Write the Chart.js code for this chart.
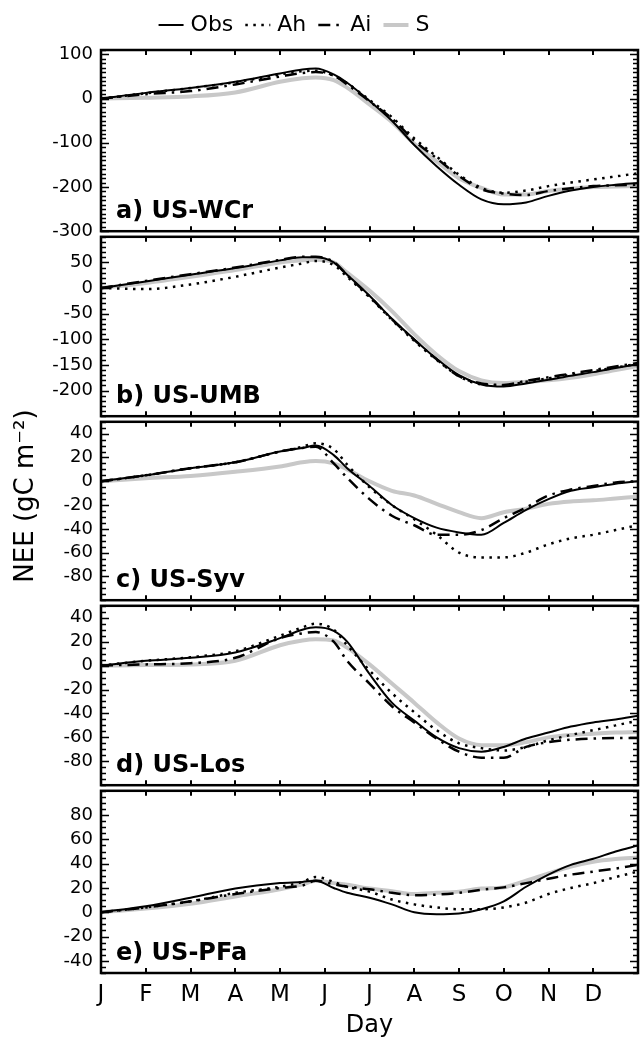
<!DOCTYPE html>
<html>
<head>
<meta charset="utf-8">
<script src="https://cdn.jsdelivr.net/npm/chart.js@4.4.1/dist/chart.umd.min.js"></script>
<style>
  body { margin: 0; background: #fff; }
  #wrap { position: relative; width: 640px; height: 1040px; overflow: hidden; }
  #wrap canvas { position: absolute; left: 0; }
</style>
</head>
<body>
<div id="wrap"></div>
<script>
// ── Data ─────────────────────────────────────────────────────────
// x positions in months since 1 Jan (0 = J, 12 = end of Dec)
const months      = [0, 1, 2, 3, 4, 4.5, 4.8, 5.2, 5.5, 6, 6.5, 7, 7.5, 8, 8.5, 9, 9.5, 10, 10.5, 11, 11.5, 12];
const monthLabels = ['J', 'F', 'M', 'A', 'M', 'J', 'J', 'A', 'S', 'O', 'N', 'D'];
const seriesNames = ['Obs', 'Ah', 'Ai', 'S'];

// a) US-WCr
const wcrObs = [0, 13, 24, 38, 57, 66, 68, 55, 36, -5, -50, -105, -153, -195, -228, -239, -235, -220, -208, -200, -195, -191];
const wcrAh  = [0, 12, 24, 37, 55, 62, 63, 52, 35, -3, -42, -90, -131, -172, -202, -213, -208, -198, -190, -183, -176, -169];
const wcrAi  = [0, 10, 17, 32, 50, 58, 60, 52, 32, -6, -45, -95, -135, -175, -205, -215, -218, -209, -203, -198, -196, -195];
const wcrS   = [0, 2, 5, 14, 38, 46, 48, 42, 25, -13, -53, -102, -142, -180, -202, -217, -217, -209, -204, -200, -199, -198];
const wcrTicks = [100, 0, -100, -200, -300];

// b) US-UMB
const umbObs = [0, 13, 26, 39, 54, 60, 60, 50, 26, -15, -60, -100, -138, -170, -188, -192, -186, -179, -171, -164, -156, -148];
const umbAh  = [0, -2, 7, 22, 40, 48, 53, 45, 22, -18, -62, -103, -140, -172, -188, -190, -183, -176, -169, -162, -155, -148];
const umbAi  = [0, 14, 27, 40, 55, 61, 61, 51, 25, -16, -61, -101, -139, -172, -186, -189, -181, -174, -167, -160, -153, -146];
const umbS   = [0, 10, 22, 35, 50, 54, 55, 50, 30, -5, -45, -90, -130, -162, -180, -185, -183, -180, -175, -168, -160, -152];
const umbTicks = [50, 0, -50, -100, -150, -200];

// c) US-Syv
const syvObs = [0, 5, 11, 16, 25, 28, 30, 22, 11, -4, -20, -31, -39, -43, -45, -35, -24, -15, -8, -5, -2, 0];
const syvAh  = [0, 5, 11, 16, 25, 29, 32, 27, 14, -5, -20, -32, -45, -60, -64, -64, -60, -53, -48, -45, -41, -37];
const syvAi  = [0, 5, 11, 16, 25, 28, 29, 15, 3, -15, -29, -37, -45, -45, -41, -31, -22, -12, -7, -4, -1, 0];
const syvS   = [0, 2.5, 4.5, 8, 12.5, 16, 17, 15, 10, 0, -8, -12, -19, -26, -31, -26, -23, -19, -17, -16, -14.5, -13];
const syvTicks = [40, 20, 0, -20, -40, -60, -80];

// d) US-Los
const losObs = [0, 4, 6.5, 11, 23, 30, 32, 29, 20, -7, -31, -46, -60, -69, -72, -68, -61, -56, -51, -47.5, -45, -42];
const losAh  = [0, 4, 7, 12, 25, 32, 35, 30, 17, -4, -23, -39, -54, -65, -69, -71, -68, -62.5, -58, -54, -50, -46];
const losAi  = [0, 1, 2, 6.5, 23, 27, 28, 20, 4, -15, -34, -47.5, -61, -72, -77, -77, -68, -64, -62, -61, -60.5, -60.5];
const losS   = [0, 0.5, 1, 4, 17, 21, 22, 21, 15, 1, -15, -31, -47.5, -61, -66.5, -66.5, -64, -60, -58, -57, -56, -55.6];
const losTicks = [40, 20, 0, -20, -40, -60, -80];

// e) US-PFa
const pfaObs = [0, 5, 12, 19.5, 24, 25, 26, 20, 16, 12, 6.5, 0, -1.6, -1, 2.5, 9, 21, 31, 39, 44, 50, 55];
const pfaAh  = [0, 4, 9, 16, 21, 25, 29, 25, 21, 17, 10.5, 6.5, 4, 2.5, 2.5, 4, 8, 15, 20, 24, 29, 33.5];
const pfaAi  = [0, 4, 9, 15, 20, 22, 26, 23, 21, 19, 16, 14, 14.5, 16, 18.5, 20.5, 24, 27.6, 31, 33.5, 36, 39];
const pfaS   = [0, 3, 7, 13, 19, 23, 26, 24, 22.7, 19.5, 17.3, 15, 16, 17, 19.5, 20.5, 26, 32, 37.6, 41.6, 43.8, 45];
const pfaTicks = [80, 60, 40, 20, 0, -20, -40];

// ── Layout / styles ──────────────────────────────────────────────
const FONT = "'DejaVu Sans', 'Liberation Sans', sans-serif";
const PLOT_LEFT = 101, PLOT_RIGHT = 638, PAGE_H = 1040;

const lineStyles = [
  { color: '#000',    width: 2,   dash: [],              order: 1 },  // Obs
  { color: '#000',    width: 2.5, dash: [2.5, 5.5],      order: 2 },  // Ah
  { color: '#000',    width: 2.5, dash: [12, 6, 2.5, 6], order: 3 },  // Ai
  { color: '#c8c8c8', width: 4,   dash: [],              order: 4 },  // S
];

const panels = [
  { label: 'a) US-WCr', top: 50,  bottom: 234, min: -300, max: 110, minor: 10, ticks: wcrTicks, series: [wcrObs, wcrAh, wcrAi, wcrS] },
  { label: 'b) US-UMB', top: 234, bottom: 419, min: -250, max: 100, minor: 10, ticks: umbTicks, series: [umbObs, umbAh, umbAi, umbS] },
  { label: 'c) US-Syv', top: 419, bottom: 603, min: -100, max: 50,  minor: 5,  ticks: syvTicks, series: [syvObs, syvAh, syvAi, syvS] },
  { label: 'd) US-Los', top: 603, bottom: 788, min: -100, max: 50,  minor: 5,  ticks: losTicks, series: [losObs, losAh, losAi, losS] },
  { label: 'e) US-PFa', top: 788, bottom: 973, min: -50,  max: 100, minor: 5,  ticks: pfaTicks, series: [pfaObs, pfaAh, pfaAi, pfaS] },
];

// ── Decorations: frame, inward ticks, panel label, legend, y title ──
function drawLegend(ctx) {
  const seg = 25, gapText = 7, gapItem = 12, cx = 294, cy = 24;
  ctx.font = `22px ${FONT}`;
  let total = 0;
  seriesNames.forEach((n, k) => {
    total += seg + gapText + ctx.measureText(n).width + (k < seriesNames.length - 1 ? gapItem : 0);
  });
  let x = cx - total / 2;
  ctx.textBaseline = 'middle';
  ctx.textAlign = 'left';
  seriesNames.forEach((n, k) => {
    const st = lineStyles[k];
    ctx.save();
    ctx.strokeStyle = st.color;
    ctx.lineWidth = st.width;
    ctx.setLineDash(st.dash);
    ctx.beginPath();
    ctx.moveTo(x, cy + 1);
    ctx.lineTo(x + seg, cy + 1);
    ctx.stroke();
    ctx.restore();
    x += seg + gapText;
    ctx.fillStyle = '#000';
    ctx.fillText(n, x, cy + 1);
    x += ctx.measureText(n).width + gapItem;
  });
}

const decorPlugin = {
  id: 'decor',
  afterDraw(chart, args, opts) {
    const { ctx, chartArea: a } = chart;
    const xs = chart.scales.x, ys = chart.scales.y;
    ctx.save();
    ctx.strokeStyle = '#000';
    ctx.fillStyle = '#000';

    // minor + major ticks on left and right
    ctx.lineWidth = 1.5;
    ctx.beginPath();
    for (let v = Math.ceil(ys.min / opts.minor) * opts.minor; v <= ys.max; v += opts.minor) {
      const y = Math.round(ys.getPixelForValue(v)) + 0.5;
      const len = opts.ticks.includes(v) ? 8 : 5;
      ctx.moveTo(a.left, y);  ctx.lineTo(a.left + len, y);
      ctx.moveTo(a.right, y); ctx.lineTo(a.right - len, y);
    }
    ctx.stroke();

    // month ticks on top and bottom
    ctx.lineWidth = 2;
    ctx.beginPath();
    for (let m = 1; m < 12; m++) {
      const x = Math.round(xs.getPixelForValue(m));
      ctx.moveTo(x, a.top);    ctx.lineTo(x, a.top + 5);
      ctx.moveTo(x, a.bottom); ctx.lineTo(x, a.bottom - 5);
    }
    ctx.stroke();

    // frame
    ctx.lineWidth = 2.5;
    ctx.strokeRect(a.left, a.top, a.right - a.left, a.bottom - a.top);

    // panel label
    ctx.font = `bold 24px ${FONT}`;
    ctx.textAlign = 'left';
    ctx.textBaseline = 'alphabetic';
    ctx.fillText(opts.label, a.left + 15, a.bottom - 13);

    if (opts.legend) drawLegend(ctx);

    if (opts.yTitle) {
      ctx.translate(26, 496 - opts.canvasTop);
      ctx.rotate(-Math.PI / 2);
      ctx.font = `26px ${FONT}`;
      ctx.textAlign = 'center';
      ctx.textBaseline = 'middle';
      ctx.fillText('NEE (gC m⁻²)', 0, 0);
    }
    ctx.restore();
  },
};

// ── Build the five stacked panels ────────────────────────────────
const wrap = document.getElementById('wrap');

panels.forEach((p, i) => {
  const first = i === 0, last = i === panels.length - 1;
  const padT = first ? p.top : 16;
  const padB = last ? 0 : 16;
  const axisH = last ? PAGE_H - p.bottom : 0;
  const canvasTop = p.top - padT;
  const h = padT + (p.bottom - p.top) + padB + axisH;

  const canvas = document.createElement('canvas');
  canvas.width = 640;
  canvas.height = h;
  canvas.style.width = '640px';
  canvas.style.height = h + 'px';
  canvas.style.top = canvasTop + 'px';
  wrap.appendChild(canvas);

  new Chart(canvas, {
    type: 'line',
    data: {
      datasets: seriesNames.map((name, k) => ({
        label: name,
        data: months.map((m, j) => ({ x: m, y: p.series[k][j] })),
        borderColor: lineStyles[k].color,
        borderWidth: lineStyles[k].width,
        borderDash: lineStyles[k].dash,
        borderCapStyle: 'butt',
        pointRadius: 0,
        cubicInterpolationMode: 'monotone',
        fill: false,
        order: lineStyles[k].order,
      })),
    },
    options: {
      responsive: false,
      animation: false,
      events: [],
      layout: { padding: { top: padT, bottom: padB, left: 0, right: 640 - PLOT_RIGHT } },
      plugins: {
        legend: { display: false },
        tooltip: { enabled: false },
        decor: { label: p.label, ticks: p.ticks, minor: p.minor, legend: first, yTitle: i === 2, canvasTop },
      },
      scales: {
        x: {
          type: 'linear',
          min: 0,
          max: 12,
          display: last,
          afterFit: s => { s.height = axisH; s.paddingLeft = 0; s.paddingRight = 0; },
          grid: { display: false, drawTicks: false },
          border: { display: false },
          ticks: {
            stepSize: 1,
            autoSkip: false,
            maxRotation: 0,
            padding: 8,
            color: '#000',
            font: { family: FONT, size: 23 },
            callback: v => monthLabels[v] ?? '',
          },
          title: {
            display: true,
            text: 'Day',
            color: '#000',
            font: { family: FONT, size: 24 },
            padding: { top: 0, bottom: 0 },
          },
        },
        y: {
          type: 'linear',
          min: p.min,
          max: p.max,
          afterFit: s => { s.width = PLOT_LEFT; },
          afterBuildTicks: s => { s.ticks = p.ticks.map(v => ({ value: v })); },
          grid: { display: false, drawTicks: false },
          border: { display: false },
          ticks: {
            padding: 8,
            color: '#000',
            font: { family: FONT, size: 18 },
            callback: v => String(v),
          },
        },
      },
    },
    plugins: [decorPlugin],
  });
});
</script>
</body>
</html>
